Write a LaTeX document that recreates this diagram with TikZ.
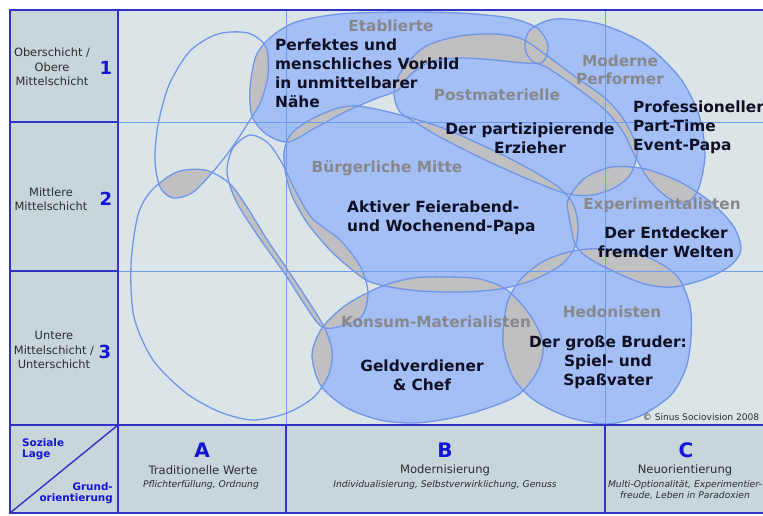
\documentclass[tikz,border=0pt]{standalone}
\usepackage{fontspec}
\setmainfont{DejaVu Sans}

\definecolor{chartbg}{RGB}{219,229,232}
\definecolor{axisbg}{RGB}{200,213,218}
\definecolor{milieublue}{RGB}{163,191,245}
\definecolor{milieugrey}{RGB}{192,192,195}
\definecolor{milieuedge}{RGB}{112,150,232}
\definecolor{gridblue}{RGB}{110,155,240}
\definecolor{frameblue}{RGB}{50,50,200}
\definecolor{labelgrey}{RGB}{136,136,140}
\definecolor{darktext}{RGB}{16,16,36}
\definecolor{axistext}{RGB}{45,45,45}
\definecolor{numblue}{RGB}{20,20,215}

\tikzstyle{milieu}=[fill=milieublue]
\tikzstyle{overlap}=[fill=milieugrey]
\tikzstyle{contour}=[draw=milieuedge, line width=1.3pt]
\tikzstyle{innerline}=[draw=gridblue, line width=0.9pt]
\tikzstyle{frameline}=[draw=frameblue, line width=1.4pt]
\tikzstyle{milieulabel}=[text=labelgrey, font=\fontsize{15.3}{18.5}\selectfont\bfseries, inner sep=0pt, align=center]
\tikzstyle{role}=[text=darktext, font=\fontsize{15.4}{19}\selectfont\bfseries, inner sep=0pt]
\tikzstyle{stratum}=[text=axistext, font=\fontsize{11.4}{14.5}\selectfont, inner sep=0pt, align=center]
\tikzstyle{stratumnum}=[text=numblue, font=\fontsize{18}{18}\selectfont\bfseries, inner sep=0pt]
\tikzstyle{axislabel}=[text=numblue, font=\fontsize{10.4}{11}\selectfont\bfseries, inner sep=0pt]
\tikzstyle{orientnum}=[text=numblue, font=\fontsize{20}{20}\selectfont\bfseries, inner sep=0pt]
\tikzstyle{orient}=[text=axistext, font=\fontsize{11.6}{14}\selectfont, inner sep=0pt]
\tikzstyle{orientsub}=[text=axistext, font=\fontsize{9.2}{11.5}\selectfont\itshape, inner sep=0pt, align=center]

% milieu outlines (pixel grid, y downwards)
\newcommand\shpkons{plot[smooth cycle] coordinates {(250,120) (261,101) (268,75) (266,47) (248,33) (218,34) (190,51) (169,85) (158,125) (155,160) (160,187) (173,198) (192,193) (211,174) (231,149)}}
\newcommand\shptrad{plot[smooth cycle] coordinates {(177,172) (152,190) (138,215) (131,265) (134,317) (153,360) (186,393) (220,412) (253,420) (287,413) (314,397) (329,374) (332,350) (323,325) (305,296) (285,266) (266,238) (247,207) (229,183) (205,170)}}
\newcommand\shpddr{plot[smooth cycle] coordinates {(250,135) (268,143) (282,163) (295,190) (312,218) (340,240) (360,266) (368,292) (362,316) (342,326) (322,327) (305,305) (285,274) (258,236) (236,201) (227,172) (233,148)}}
\newcommand\shpetab{plot[smooth cycle] coordinates {(250,88) (256,56) (271,37) (296,22) (340,14) (400,12) (460,13) (510,18) (537,28) (548,45) (543,62) (525,63) (495,60) (460,58) (430,62) (410,75) (398,90) (375,99) (345,112) (315,128) (288,142) (266,134) (252,116)}}
\newcommand\shppost{plot[smooth cycle] coordinates {(400,112) (394,95) (398,77) (410,60) (428,45) (460,36) (495,34) (522,39) (546,55) (577,78) (605,98) (622,117) (633,137) (637,155) (630,175) (614,188) (592,195) (568,194) (540,184) (507,170) (473,154) (440,137) (418,124)}}
\newcommand\shpmod{plot[smooth cycle] coordinates {(525,48) (530,30) (555,19) (600,24) (645,44) (680,78) (699,115) (705,155) (698,190) (684,204) (667,197) (650,181) (637,160) (623,132) (605,110) (577,88) (548,68) (532,61)}}
\newcommand\shpbue{plot[smooth cycle] coordinates {(284,152) (291,134) (310,120) (335,109) (358,106) (397,114) (440,127) (473,141) (507,157) (540,175) (562,190) (574,206) (578,226) (575,247) (561,265) (533,280) (500,289) (460,292) (420,291) (390,287) (368,281) (350,268) (330,250) (308,224) (293,198) (286,175)}}
\newcommand\shpkon{plot[smooth cycle] coordinates {(322,328) (346,305) (380,287) (413,278) (447,277) (480,279) (507,290) (530,315) (543,343) (538,370) (518,395) (482,410) (447,419) (413,423) (380,420) (347,408) (321,386) (312,355)}}
\newcommand\shphed{plot[smooth cycle] coordinates {(503,343) (507,304) (521,279) (544,261) (573,251) (603,249) (647,257) (677,276) (690,306) (691,338) (686,368) (671,395) (640,416) (606,424) (568,417) (534,400) (513,377)}}
\newcommand\shpexp{plot[smooth cycle] coordinates {(568,200) (585,178) (612,167) (645,169) (680,182) (712,203) (734,227) (741,250) (730,266) (705,279) (673,287) (645,284) (615,272) (590,259) (576,246) (570,222)}}

\newcommand\milieupath[2]{\expandafter\milieupathdo\csname shp#2\endcsname{#1}}
\newcommand\milieupathdo[2]{\path[#2] #1;}

\begin{document}
\begin{tikzpicture}[x=1pt, y=-1pt]
  \useasboundingbox (0,0) rectangle (763,516);
  \fill[white] (0,0) rectangle (763,516);
  \fill[chartbg] (118,10) rectangle (763,425);
  \fill[axisbg] (10,10) rectangle (118,513);
  \fill[axisbg] (118,425) rectangle (763,513);

  % milieus, overlaps in grey
  \foreach \m in {etab,post,mod,bue,kon,exp,hed}
    {\milieupath{milieu}{\m}}
  \foreach \a/\b in {kons/trad, kons/etab, kons/ddr, trad/ddr, trad/kon, ddr/bue, ddr/kon, ddr/etab,
                     etab/bue, etab/post, etab/mod, post/mod, post/bue, post/exp, mod/exp,
                     bue/exp, bue/kon, bue/hed, kon/hed, exp/hed}
    {\begin{scope}
       \milieupath{clip}{\a}
       \milieupath{overlap}{\b}
     \end{scope}}
  \foreach \m in {kons,trad,ddr,etab,post,mod,bue,kon,exp,hed}
    {\milieupath{contour}{\m}}

  % grid of the map
  \draw[innerline] (286,10) -- (286,425);
  \draw[innerline] (605,10) -- (605,425);
  \draw[innerline] (118,122) -- (763,122);
  \draw[innerline] (118,271) -- (763,271);

  \draw[frameline] (763,10) -- (10,10) -- (10,513) -- (763,513);
  \draw[frameline] (118,10) -- (118,513);
  \draw[frameline] (10,122) -- (118,122) (10,271) -- (118,271);
  \draw[frameline] (10,425) -- (763,425);
  \draw[frameline] (286,425) -- (286,513) (605,425) -- (605,513);
  \draw[frameline] (10,513) -- (118,425);

  \node (etablierte) [milieulabel] at (391,26) {Etablierte};
  \node (postmat) [milieulabel] at (497,95) {Postmaterielle};
  \node (modperf) [milieulabel] at (620,70) {Moderne\\Performer};
  \node (buergmitte) [milieulabel] at (387,168) {Bürgerliche Mitte};
  \node (experim) [milieulabel] at (662,205) {Experimentalisten};
  \node (konsmat) [milieulabel] at (436,322) {Konsum-Materialisten};
  \node (hedon) [milieulabel] at (612,312) {Hedonisten};

  \node (vorbild) [role, align=left, anchor=west] at (275,73) {Perfektes und\\menschliches Vorbild\\in unmittelbarer\\Nähe};
  \node (erzieher) [role, align=center] at (530,138) {Der partizipierende\\Erzieher};
  \node (eventpapa) [role, align=left, anchor=west] at (633,127.5) {Professioneller\\Part-Time\\Event-Papa};
  \node (feierabend) [role, align=left, anchor=west] at (347,217.5) {Aktiver Feierabend-\\und Wochenend-Papa};
  \node (entdecker) [role, align=center] at (666,242) {Der Entdecker\\fremder Welten};
  \node (geldverdiener) [role, align=center] at (422,375) {Geldverdiener\\\& Chef};
  \node (bruder) [role, align=center] at (608,362) {Der große Bruder:\\Spiel- und\\Spaßvater};

  \node (copyright) [text=axistext, font=\fontsize{9.1}{11}\selectfont, inner sep=0pt] at (701,417.5) {© Sinus Sociovision 2008};

  \node (schicht1) [stratum] at (52,67) {Oberschicht /\\Obere\\Mittelschicht};
  \node (nr1) [stratumnum] at (106,68) {1};
  \node (schicht2) [stratum] at (51,199) {Mittlere\\Mittelschicht};
  \node (nr2) [stratumnum] at (106,199) {2};
  \node (schicht3) [stratum] at (54,350) {Untere\\Mittelschicht /\\Unterschicht};
  \node (nr3) [stratumnum] at (105,352) {3};

  \node (lage) [axislabel, align=left, anchor=west] at (22,449.5) {Soziale\\Lage};
  \node (grundor) [axislabel, align=right, anchor=east] at (113,493) {Grund-\\orientierung};

  \node (colA) [orientnum] at (202,450.5) {A};
  \node (wertA) [orient] at (203,470) {Traditionelle Werte};
  \node (zielA) [orientsub] at (201,484.5) {Pflichterfüllung, Ordnung};
  \node (colB) [orientnum] at (445,450.5) {B};
  \node (wertB) [orient] at (445,470) {Modernisierung};
  \node (zielB) [orientsub] at (445,484.5) {Individualisierung, Selbstverwirklichung, Genuss};
  \node (colC) [orientnum] at (686,450.5) {C};
  \node (wertC) [orient] at (685,470) {Neuorientierung};
  \node (zielC) [orientsub] at (685,490) {Multi-Optionalität, Experimentier-\\freude, Leben in Paradoxien};
\end{tikzpicture}
\end{document}
